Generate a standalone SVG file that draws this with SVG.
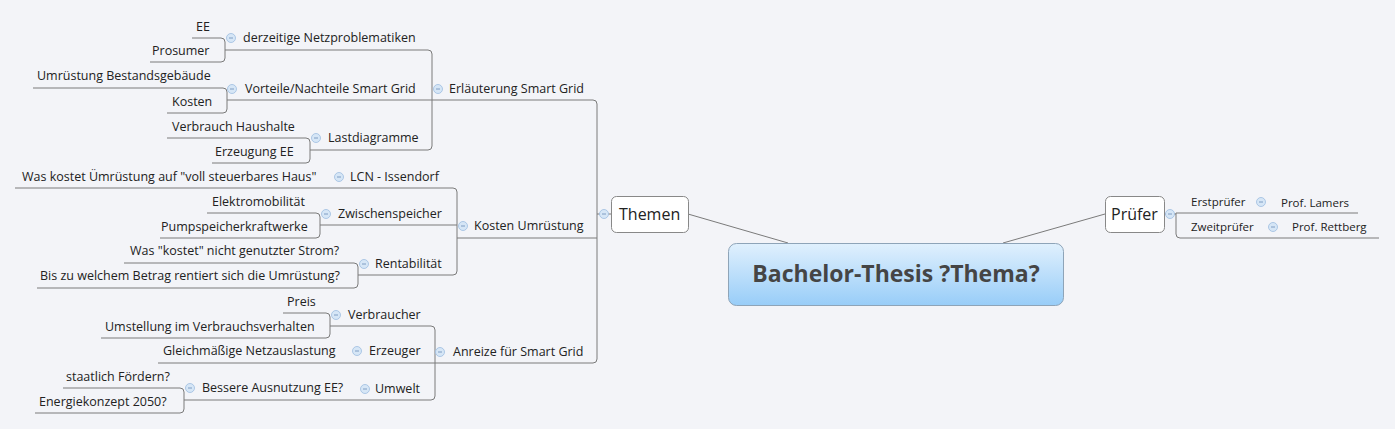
<svg xmlns="http://www.w3.org/2000/svg" width="1395" height="429" viewBox="0 0 1395 429">
<defs>
<linearGradient id="cg" x1="0" y1="0" x2="0" y2="1"><stop offset="0" stop-color="#e0f0fd"/><stop offset="1" stop-color="#98cdf8"/></linearGradient>
<g id="col"><circle r="4.5" fill="#d6e6f6" stroke="#9dbde0" stroke-width="0.8"/><line x1="-2" y1="0" x2="2" y2="0" stroke="#6a8cb8" stroke-width="0.8"/></g>
</defs>
<style>
text{font-family:"Open Sans","Liberation Sans",sans-serif;font-size:12.5px;fill:#222}
.c path,.c line{fill:none;stroke:#7a7a7a;stroke-width:1}
.t16{font-size:16px}
.sm{font-size:11.5px}
</style>
<rect width="1395" height="429" fill="#f3f4f8"/>
<g class="c" id="connectors">
<path d="M192 38H221Q225 38 225 42V58Q225 62 221 62H150"/>
<path d="M225 50H428Q432 50 432 54V146Q432 150 428 150H310"/>
<path d="M33 88H223Q227 88 227 92V109Q227 113 223 113H167"/>
<path d="M227 100H593Q597 100 597 104V359Q597 363 593 363H158"/>
<path d="M167 138H306Q310 138 310 142V159Q310 163 306 163H212"/>
<path d="M15 188H453Q457 188 457 192V271Q457 275 453 275H358"/>
<path d="M207 213H316Q320 213 320 217V234Q320 238 316 238H160"/>
<line x1="320" y1="225" x2="457" y2="225"/>
<line x1="457" y1="238" x2="597" y2="238"/>
<path d="M124 263H354Q358 263 358 267V284Q358 288 354 288H37"/>
<path d="M283 313H326Q330 313 330 317V334Q330 338 326 338H101"/>
<path d="M330 326H431Q435 326 435 330V396Q435 400 431 400H184"/>
<path d="M63 388H180Q184 388 184 392V409Q184 413 180 413H35"/>
<line x1="597" y1="214" x2="611" y2="214"/>
<line x1="688" y1="214" x2="788" y2="243"/>
<line x1="1105" y1="214" x2="1003" y2="243"/>
<line x1="1164" y1="214" x2="1176" y2="214"/>
<path d="M1176 213H1358M1176 213V234Q1176 238 1180 238H1379"/>
</g>
<g id="center"><rect x="728.5" y="243.5" width="335" height="62" rx="8" fill="url(#cg)" stroke="#8ea4b8"/>
<text x="896" y="282" text-anchor="middle" style="font-size:23px;font-weight:bold;fill:#454545;font-family:'Open Sans','Liberation Sans',sans-serif">Bachelor-Thesis ?Thema?</text></g>
<g id="themen"><rect x="611.5" y="196.5" width="77" height="36" rx="5" fill="#fff" stroke="#888"/><text class="t16" x="619" y="220">Themen</text><use href="#col" x="604" y="214"/></g>
<g id="pruefer"><rect x="1105.5" y="196.5" width="59" height="36" rx="5" fill="#fff" stroke="#888"/><text class="t16" x="1111" y="220">Prüfer</text><use href="#col" x="1170" y="214"/></g>
<g id="n1"><text x="196" y="31">EE</text></g>
<g id="n2"><text x="152" y="55">Prosumer</text></g>
<g id="n3"><use href="#col" x="231" y="38"/><text x="243" y="42">derzeitige Netzproblematiken</text></g>
<g id="n4"><text x="37" y="80">Umrüstung Bestandsgebäude</text></g>
<g id="n5"><text x="172" y="106">Kosten</text></g>
<g id="n6"><use href="#col" x="232" y="89"/><text x="245" y="93">Vorteile/Nachteile Smart Grid</text></g>
<g id="n7"><use href="#col" x="438" y="89"/><text x="449" y="93">Erläuterung Smart Grid</text></g>
<g id="n8"><text x="172" y="131">Verbrauch Haushalte</text></g>
<g id="n9"><text x="215" y="156">Erzeugung EE</text></g>
<g id="n10"><use href="#col" x="316" y="138"/><text x="328" y="142">Lastdiagramme</text></g>
<g id="n11"><text x="22" y="181">Was kostet Ümrüstung auf "voll steuerbares Haus"</text></g>
<g id="n12"><use href="#col" x="339" y="177"/><text x="350" y="181">LCN - Issendorf</text></g>
<g id="n13"><text x="212" y="206">Elektromobilität</text></g>
<g id="n14"><text x="161" y="231">Pumpspeicherkraftwerke</text></g>
<g id="n15"><use href="#col" x="326" y="214"/><text x="338" y="218">Zwischenspeicher</text></g>
<g id="n16"><use href="#col" x="463" y="226"/><text x="474" y="230">Kosten Umrüstung</text></g>
<g id="n17"><text x="130" y="255">Was "kostet" nicht genutzter Strom?</text></g>
<g id="n18"><text x="40" y="280">Bis zu welchem Betrag rentiert sich die Umrüstung?</text></g>
<g id="n19"><use href="#col" x="364" y="264"/><text x="375" y="268">Rentabilität</text></g>
<g id="n20"><text x="287" y="306">Preis</text></g>
<g id="n21"><text x="105" y="331">Umstellung im Verbrauchsverhalten</text></g>
<g id="n22"><use href="#col" x="336" y="315"/><text x="348" y="319">Verbraucher</text></g>
<g id="n23"><text x="163" y="355">Gleichmäßige Netzauslastung</text></g>
<g id="n24"><use href="#col" x="357" y="351"/><text x="369" y="355">Erzeuger</text></g>
<g id="n25"><use href="#col" x="440" y="352"/><text x="453" y="356">Anreize für Smart Grid</text></g>
<g id="n26"><text x="66" y="381">staatlich Fördern?</text></g>
<g id="n27"><text x="39" y="406">Energiekonzept 2050?</text></g>
<g id="n28"><use href="#col" x="190" y="388"/><text x="202" y="392">Bessere Ausnutzung EE?</text></g>
<g id="n29"><use href="#col" x="365" y="389"/><text x="375" y="393">Umwelt</text></g>
<g id="n30"><text class="sm" x="1191" y="206">Erstprüfer</text></g>
<g id="n31"><use href="#col" x="1261" y="202"/><text class="sm" x="1281" y="207">Prof. Lamers</text></g>
<g id="n32"><text class="sm" x="1191" y="231">Zweitprüfer</text></g>
<g id="n33"><use href="#col" x="1273" y="227"/><text class="sm" x="1292" y="231">Prof. Rettberg</text></g>
</svg>
